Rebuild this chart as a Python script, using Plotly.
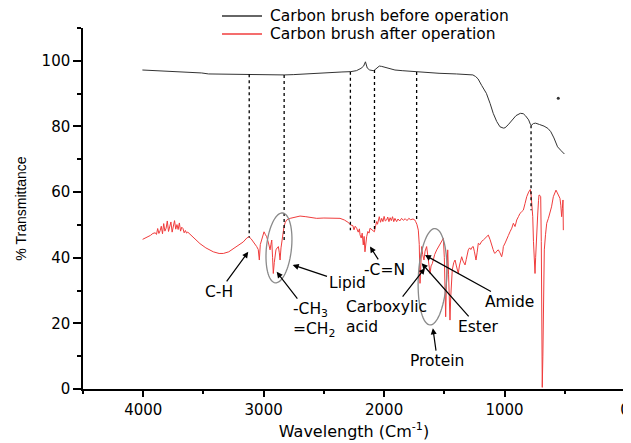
import math
import plotly.graph_objects as go

# ---------------- data ----------------
series_names = ["Carbon brush before operation", "Carbon brush after operation"]

before_wn = [4007, 3900, 3800, 3700, 3600, 3515, 3458, 3300, 3120, 2950, 2895, 2830, 2750, 2670, 2550,
             2450, 2350, 2277, 2230, 2192, 2170, 2155, 2148, 2140, 2120, 2090, 2079, 2060, 2040, 2020,
             1995, 1950, 1910, 1850, 1790, 1728, 1650, 1544, 1400, 1300, 1263, 1240, 1220, 1190, 1151,
             1120, 1094, 1065, 1038, 1010, 996, 970, 939, 905, 869, 845, 827, 800, 785, 776, 760, 742,
             710, 672, 640, 616, 590, 560, 530, 503]
before_t = [97.2, 97.0, 96.8, 96.6, 96.5, 96.3, 96.0, 95.9, 95.9, 95.7, 95.6, 95.7, 95.8, 96.0, 96.2,
            96.4, 96.6, 96.7, 97.0, 97.7, 98.4, 99.7, 99.0, 97.8, 97.2, 97.0, 97.2, 97.8, 98.4, 98.3,
            98.0, 97.6, 97.2, 97.0, 96.8, 96.6, 96.4, 96.2, 96.0, 95.8, 95.7, 95.2, 94.5, 92.5, 90.1,
            87.0, 84.0, 81.5, 79.9, 79.5, 79.6, 80.5, 82.0, 83.3, 84.0, 83.9, 83.3, 82.0, 80.6, 80.4, 80.9, 81.0,
            80.6, 80.1, 79.4, 78.4, 76.5, 73.8, 72.6, 71.6]

after_wn = [4005, 3980, 3960, 3940, 3920, 3900, 3890, 3880, 3870, 3860, 3850, 3840, 3830, 3820, 3810,
            3800, 3790, 3780, 3770, 3760, 3750, 3740, 3730, 3720, 3710, 3700, 3690, 3680, 3670, 3660,
            3650, 3640, 3630, 3612, 3580, 3550, 3529, 3480, 3418, 3370, 3335, 3290, 3224, 3170, 3140,
            3122, 3105, 3086, 3070, 3058, 3045, 3036, 3028, 3017, 3005, 2997, 2985, 2975, 2960, 2947,
            2940, 2933, 2926, 2920, 2912, 2905, 2898, 2888, 2878, 2870, 2864, 2856, 2845, 2838, 2831,
            2820, 2809, 2780, 2740, 2698, 2650, 2600, 2560, 2500, 2440, 2400, 2366, 2330, 2300, 2278,
            2260, 2250, 2240, 2228, 2215, 2205, 2200, 2190, 2182, 2173, 2166, 2159, 2152, 2145, 2135,
            2125, 2117, 2100, 2081, 2070, 2062, 2055, 2048, 2040, 2030, 2020, 2010, 2000, 1990, 1979,
            1970, 1960, 1950, 1940, 1930, 1920, 1910, 1896, 1885, 1870, 1855, 1840, 1825, 1810, 1795,
            1780, 1760, 1745, 1738, 1728, 1716, 1708, 1702, 1695, 1688, 1680, 1669, 1660, 1647, 1635,
            1626, 1619, 1610, 1600, 1592, 1580, 1563, 1550, 1536, 1520, 1508, 1500, 1493, 1489, 1484,
            1478, 1472, 1465, 1458, 1453, 1447, 1440, 1434, 1422, 1411, 1400, 1392, 1384, 1375, 1365,
            1356, 1345, 1336, 1328, 1318, 1310, 1301, 1290, 1280, 1270, 1260, 1250, 1244, 1237, 1228,
            1218, 1205, 1190, 1176, 1160, 1145, 1135, 1120, 1107, 1095, 1085, 1079, 1065, 1052, 1038,
            1030, 1024, 1015, 1010, 995, 982, 968, 955, 940, 927, 920, 913, 905, 899, 885,
            872, 858, 844, 830, 816, 800, 786, 778, 772, 766, 760, 753, 747, 742, 737,
            733, 725, 718, 714, 707, 700, 695, 690, 687, 682, 677, 670, 660, 650, 636,
            623, 610, 595, 585, 573, 565, 560, 554, 547, 540, 533, 526, 520, 515, 512]
after_t = [45.6, 46.0, 46.5, 46.8, 47.4, 47.6, 47.1, 48.9, 47.4, 48.2, 49.6, 47.3, 50.4, 48.1, 49.0,
           51.2, 48.0, 49.5, 50.9, 47.8, 49.9, 51.3, 48.7, 50.1, 48.6, 50.6, 48.1, 49.3, 48.9, 47.6,
           48.3, 47.5, 47.8, 47.2, 46.0, 45.0, 44.3, 43.0, 41.8, 41.3, 41.3, 41.8, 43.4, 44.8, 46.0,
           46.4, 45.8, 44.9, 44.2, 43.4, 42.5, 39.3, 44.0, 45.4, 47.0, 47.9, 47.0, 46.4, 44.5, 42.4,
           44.0, 45.4, 40.0, 35.2, 38.5, 41.5, 42.4, 43.0, 43.4, 41.5, 39.3, 43.0, 45.9, 47.0, 49.5,
           50.8, 51.5, 52.0, 52.4, 52.7, 52.5, 52.2, 52.0, 52.1, 52.0, 51.9, 52.0, 51.5, 50.8, 50.0,
           49.8, 48.5, 49.6, 49.0, 47.8, 48.8, 47.0, 46.0, 47.5, 43.9, 46.5, 41.8, 45.0, 46.4, 48.0,
           47.5, 49.0, 48.6, 47.9, 49.8, 51.0, 50.2, 51.0, 52.5, 50.8, 52.0, 51.0, 52.6, 51.2, 51.5,
           52.4, 51.0, 52.2, 51.3, 52.5, 51.0, 52.0, 51.0, 51.8, 51.2, 52.0, 51.4, 51.9, 51.3, 52.0,
           51.6, 51.8, 51.5, 51.0, 50.2, 48.4, 44.0, 32.2, 38.0, 43.4, 41.0, 39.3, 42.0, 43.4, 40.0,
           37.0, 35.2, 37.5, 38.2, 39.3, 41.0, 42.4, 43.2, 44.4, 45.0, 45.9, 40.0, 28.0, 22.0, 30.0,
           38.0, 42.4, 35.0, 26.0, 21.0, 28.0, 33.0, 36.3, 38.5, 39.3, 37.5, 36.0, 35.2, 37.5, 39.5,
           40.3, 39.0, 38.5, 37.8, 39.5, 41.0, 42.4, 43.0, 42.5, 43.2, 43.4, 41.8, 40.2, 39.3, 41.5,
           44.4, 44.0, 45.0, 45.4, 46.0, 46.8, 46.9, 45.5, 43.4, 42.5, 41.5, 41.3, 42.0, 42.4, 41.5,
           40.8, 40.3, 41.8, 43.4, 44.5, 45.4, 46.8, 47.9, 49.0, 50.5, 49.8, 49.5, 50.6, 51.5, 52.5,
           53.5, 54.0, 54.5, 56.5, 58.6, 60.0, 60.8, 58.5, 55.0, 52.5, 45.0, 38.0, 35.2, 40.0, 45.0,
           47.4, 53.0, 57.5, 59.1, 59.0, 58.6, 45.0, 20.0, 0.5, 10.0, 30.0, 42.4, 47.0, 50.5, 52.0,
           53.5, 55.5, 58.6, 59.5, 60.6, 60.0, 59.5, 59.1, 58.5, 58.1, 56.0, 52.5, 55.0, 57.6, 48.4]

stray_wn = [554]
stray_t = [88.6]

band_wn = [3120, 2830, 2280, 2080, 1730, 780]
band_top = [95.9, 95.7, 96.7, 97.2, 96.6, 80.4]
band_bottom = [46.2, 45.4, 48.4, 48.0, 51.0, 54.5]

labels = ["C-H", "Lipid", "-CH<sub>3</sub><br>=CH<sub>2</sub>", "-C=N",
          "Carboxylic<br>acid", "Protein", "Amide", "Ester"]
label_wn = [3371, 2308, 2582, 1993, 1980, 1557, 955, 1221]
label_t = [29.6, 32.3, 21.0, 36.3, 21.9, 8.5, 26.5, 18.9]
arrow_wn = [3128, 2759, 2892, 2117, 1661, 1595, 1661, 1688]
arrow_t = [41.8, 37.8, 35.7, 43.4, 36.8, 18.5, 40.8, 38.3]
label_align = ["center", "center", "left", "center", "left", "center", "center", "center"]

ell_wn = [2873, 1598]
ell_t = [43.0, 34.2]
ell_half_wn = [104, 118]
ell_half_t = [10.7, 14.7]
ell_tilt = [6, 3]

# ---------------- layout geometry ----------------
PAGE_W, PAGE_H = 631, 443
BODY = 8                       # default browser body margin around the plot div
W, H = PAGE_W - BODY, PAGE_H - BODY
PLOT_LEFT, PLOT_RIGHT, PLOT_TOP, PLOT_BOTTOM = 83, 625, 28, 389   # page pixels
M = dict(l=PLOT_LEFT - BODY, r=PAGE_W - PLOT_RIGHT, t=PLOT_TOP - BODY, b=PAGE_H - PLOT_BOTTOM)
XR = [4500, 0]
YR = [0, 110]
plot_w = PLOT_RIGHT - PLOT_LEFT
plot_h = PLOT_BOTTOM - PLOT_TOP
sx = plot_w / abs(XR[0] - XR[1])
sy = plot_h / abs(YR[1] - YR[0])

FONT = "DejaVu Sans"
BLACK_LINE = "#333333"
RED_LINE = "#f03c3c"

fig = go.Figure()

fig.add_trace(go.Scatter(x=before_wn, y=before_t, mode="lines",
                         line=dict(color=BLACK_LINE, width=1),
                         name=series_names[0], showlegend=False))
fig.add_trace(go.Scatter(x=after_wn, y=after_t, mode="lines",
                         line=dict(color=RED_LINE, width=1),
                         name=series_names[1], showlegend=False))
fig.add_trace(go.Scatter(x=stray_wn, y=stray_t, mode="markers",
                         marker=dict(color=BLACK_LINE, size=3), showlegend=False))

# dotted band marker lines
bx, by = [], []
for w, t0, t1 in zip(band_wn, band_top, band_bottom):
    bx += [w, w, None]
    by += [t0, t1, None]
fig.add_trace(go.Scatter(x=bx, y=by, mode="lines", showlegend=False,
                         line=dict(color="black", width=1.3, dash="dot")))

# ellipses
shapes = []
for cx, cy, hw, ht, tilt in zip(ell_wn, ell_t, ell_half_wn, ell_half_t, ell_tilt):
    a = hw * sx
    b = ht * sy
    phi = math.radians(tilt)
    pts = []
    for i in range(73):
        th = 2 * math.pi * i / 72
        u = a * math.cos(th)
        v = b * math.sin(th)
        u2 = u * math.cos(phi) + v * math.sin(phi)
        v2 = -u * math.sin(phi) + v * math.cos(phi)
        pts.append((cx - u2 / sx, cy + v2 / sy))
    path = "M " + " L ".join(f"{p[0]:.2f},{p[1]:.3f}" for p in pts) + " Z"
    shapes.append(dict(type="path", path=path, xref="x", yref="y",
                       line=dict(color="#8a8a8a", width=1.3)))

annotations = []
for txt, lx, ly, hx, hy, al in zip(labels, label_wn, label_t, arrow_wn, arrow_t, label_align):
    annotations.append(dict(text=txt, x=hx, y=hy, ax=lx, ay=ly, axref="x", ayref="y",
                            xref="x", yref="y", showarrow=True, arrowhead=2, arrowsize=1,
                            arrowwidth=1.2, arrowcolor="black", align=al,
                            font=dict(family=FONT, size=15.5, color="black")))

# manual legend (line sample + text), positioned in page pixels above the plot
leg_colors = [BLACK_LINE, RED_LINE]
leg_rows_px = [16, 34]
leg_line_px = (222, 262)
leg_text_px = 268
for name, col, ypx in zip(series_names, leg_colors, leg_rows_px):
    yp = (PLOT_BOTTOM - ypx) / plot_h
    x0 = (leg_line_px[0] - PLOT_LEFT) / plot_w
    x1 = (leg_line_px[1] - PLOT_LEFT) / plot_w
    shapes.append(dict(type="line", xref="paper", yref="paper", x0=x0, x1=x1, y0=yp, y1=yp,
                       line=dict(color=col, width=1.3)))
    annotations.append(dict(text=name, xref="paper", yref="paper",
                            x=(leg_text_px - PLOT_LEFT) / plot_w, y=yp, xanchor="left", yanchor="middle",
                            showarrow=False, font=dict(family=FONT, size=15.5, color="black")))

fig.update_layout(
    width=W, height=H, margin=M,
    paper_bgcolor="white", plot_bgcolor="white",
    font=dict(family=FONT, size=15, color="black"),
    shapes=shapes, annotations=annotations,
    showlegend=False,
    xaxis=dict(range=XR, tickvals=[0, 1000, 2000, 3000, 4000], ticks="outside", ticklen=6,
               tickwidth=1.5, tickcolor="black", showline=True, linewidth=1.5, linecolor="black",
               showgrid=False, zeroline=False, automargin=False,
               minor=dict(dtick=500, tick0=0, ticks="outside", ticklen=3, tickwidth=1.5, tickcolor="black"),
               tickfont=dict(family=FONT, size=15),
               title=dict(text="Wavelength (Cm<sup>-1</sup>)", font=dict(family=FONT, size=16), standoff=8)),
    yaxis=dict(range=YR, dtick=20, ticks="outside", ticklen=8, tickwidth=1.5, tickcolor="black",
               showline=True, linewidth=1.5, linecolor="black", showgrid=False, zeroline=False,
               automargin=False,
               minor=dict(dtick=10, ticks="outside", ticklen=4, tickwidth=1.5, tickcolor="black"),
               tickfont=dict(family=FONT, size=15),
               title=dict(text="% Transmittance", font=dict(family="Liberation Sans", size=14), standoff=12)),
)

fig.write_html("out.html")
